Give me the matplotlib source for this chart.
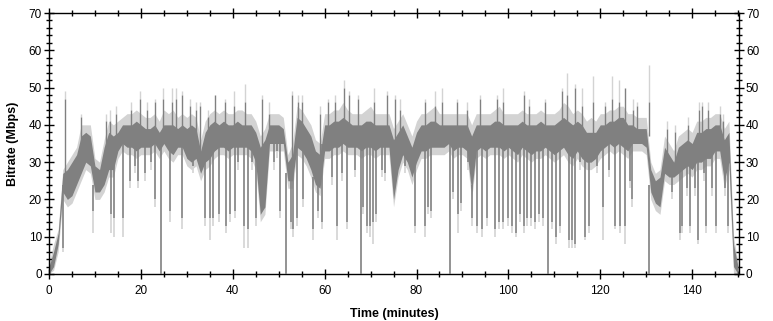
"""
Bitrate over time for a video stream, with the per-minute spread of the
bitrate (dark) and the short-term peaks/troughs (light). Saves out.png.
"""

import matplotlib
matplotlib.use("Agg")
import matplotlib.pyplot as plt
from matplotlib.ticker import MultipleLocator

# one entry per minute, 0..150
minutes = list(range(151))

dark_lo = [0, 2, 8, 22, 20, 21, 24, 27, 30, 29,
           22, 22, 24, 28, 28, 33, 35, 34, 34, 33,
           34, 34, 34, 35, 33, 35, 33, 32, 34, 34,
           31, 30, 31, 27, 30, 31, 33, 34, 34, 33,
           34, 34, 34, 34, 33, 30, 16, 18, 35, 35,
           35, 35, 25, 25, 34, 33, 31, 28, 24, 23,
           33, 33, 34, 34, 35, 34, 34, 34, 33, 34,
           34, 33, 34, 34, 34, 20, 28, 32, 30, 26,
           30, 33, 33, 34, 34, 34, 34, 35, 33, 34,
           34, 33, 22, 33, 34, 33, 34, 34, 34, 33,
           34, 33, 32, 34, 33, 32, 33, 33, 34, 33,
           32, 33, 34, 32, 31, 33, 31, 30, 30, 31,
           33, 34, 35, 34, 35, 34, 33, 35, 35, 35,
           34, 22, 19, 18, 27, 26, 26, 27, 28, 29,
           28, 30, 30, 31, 31, 33, 33, 25, 30, 2, 0]

dark_hi = [2, 6, 11, 27, 28, 30, 32, 37, 38, 37,
           29, 28, 34, 38, 37, 38, 40, 40, 40, 41,
           40, 39, 39, 40, 38, 40, 40, 40, 39, 40,
           39, 40, 39, 33, 38, 40, 41, 40, 41, 40,
           40, 41, 40, 40, 40, 38, 34, 36, 40, 40,
           40, 39, 30, 32, 42, 41, 39, 37, 33, 32,
           40, 40, 41, 41, 42, 41, 40, 40, 40, 41,
           41, 40, 40, 40, 40, 36, 38, 40, 37, 34,
           38, 40, 40, 41, 41, 40, 40, 40, 40, 40,
           40, 40, 37, 40, 40, 40, 40, 41, 41, 40,
           40, 40, 40, 41, 40, 40, 40, 41, 40, 40,
           40, 41, 42, 41, 40, 41, 40, 38, 38, 38,
           40, 40, 41, 41, 42, 42, 40, 40, 39, 39,
           39, 28, 25, 26, 34, 32, 30, 34, 35, 36,
           35, 38, 38, 39, 39, 40, 40, 36, 38, 8, 2]

light_lo = [0, 1, 6, 20, 18, 19, 22, 25, 28, 27,
            20, 20, 22, 26, 26, 31, 33, 32, 32, 31,
            32, 32, 32, 33, 31, 33, 31, 30, 32, 32,
            29, 28, 29, 25, 28, 29, 31, 32, 32, 31,
            32, 32, 32, 32, 31, 28, 14, 16, 33, 33,
            33, 33, 23, 23, 32, 31, 29, 26, 22, 21,
            31, 31, 32, 32, 33, 32, 32, 32, 31, 32,
            32, 31, 32, 32, 32, 18, 26, 30, 28, 24,
            28, 31, 31, 32, 32, 32, 32, 33, 31, 32,
            32, 31, 20, 31, 32, 31, 32, 32, 32, 31,
            32, 31, 30, 32, 31, 30, 31, 31, 32, 31,
            30, 31, 32, 30, 29, 31, 29, 28, 28, 29,
            31, 32, 33, 32, 33, 32, 31, 33, 33, 33,
            32, 20, 17, 16, 25, 24, 24, 25, 26, 27,
            26, 28, 28, 29, 29, 31, 31, 23, 28, 0, 0]

light_hi = [3, 8, 12, 28, 30, 32, 34, 40, 40, 40,
            31, 30, 36, 41, 40, 41, 42, 43, 43, 44,
            43, 42, 42, 43, 41, 44, 43, 44, 42, 43,
            42, 43, 42, 36, 41, 43, 44, 43, 44, 43,
            43, 44, 44, 43, 43, 41, 37, 39, 43, 43,
            43, 42, 32, 35, 45, 44, 42, 40, 36, 35,
            43, 43, 44, 44, 46, 44, 43, 43, 43, 44,
            45, 43, 43, 43, 43, 39, 41, 43, 40, 37,
            41, 43, 43, 44, 45, 43, 43, 43, 43, 43,
            43, 43, 40, 43, 43, 43, 43, 44, 45, 43,
            43, 43, 43, 44, 43, 43, 43, 44, 43, 43,
            43, 44, 46, 45, 43, 44, 43, 41, 42, 41,
            43, 43, 44, 44, 45, 45, 43, 43, 42, 42,
            42, 30, 27, 28, 37, 35, 33, 37, 38, 39,
            38, 41, 41, 42, 42, 43, 43, 39, 41, 10, 3]

# narrow drops: time (min), dark depth, light depth (Mbps)
dip_times = [3.0, 9.6, 13.4, 14.1, 16.2, 19.4, 23.1, 24.3, 26.3, 28.9,
             33.9, 35.0, 35.8, 36.9, 38.5, 39.5, 40.5, 42.4, 43.4, 45.0,
             49.0, 50.3, 51.5, 52.7, 53.2, 54.0, 55.2, 57.5, 58.6, 59.5,
             61.7, 62.8, 64.8, 67.9, 68.3, 69.2, 69.9, 70.6, 71.1, 72.4,
             79.7, 81.9, 82.6, 83.2, 87.3, 88.0, 89.0, 89.7, 92.0, 93.1,
             94.3, 95.3, 97.0, 98.0, 98.9, 100.0, 100.7, 101.6, 102.5, 103.5,
             104.0, 105.0, 105.8, 106.7, 107.5, 108.7, 109.6, 110.3, 111.3, 113.1,
             113.8, 114.5, 116.7, 117.6, 120.7, 123.2, 124.3, 125.4, 126.4, 126.9,
             130.7, 137.4, 137.9, 139.6, 141.2, 143.1, 145.2, 147.8,
             17.6, 18.7, 20.9, 22.3, 31.4, 41.2, 44.1, 49.6, 63.7, 66.6,
             73.1, 77.5, 91.3, 115.6, 119.2, 121.8, 135.6, 138.8, 140.7, 142.5,
             144.3, 147.2]
dip_dark = [7, 17, 16, 15, 15, 25, 20, 0, 17, 15,
            15, 15, 15, 16, 13, 16, 17, 13, 12, 15,
            30, 17, 0, 14, 12, 15, 20, 12, 17, 14,
            26, 13, 14, 0, 18, 13, 13, 14, 16, 28,
            13, 13, 18, 17, 0, 22, 16, 19, 15, 13,
            12, 15, 12, 14, 14, 15, 13, 11, 16, 13,
            15, 15, 14, 16, 15, 0, 14, 10, 13, 9,
            9, 8, 10, 13, 18, 13, 13, 13, 25, 20,
            0, 11, 13, 13, 9, 13, 13, 13,
            25, 29, 27, 30, 29, 30, 30, 33, 27, 28,
            27, 29, 30, 30, 29, 28, 22, 23, 23, 27,
            23, 23]
dip_light = [6, 11, 11, 10, 10, 23, 18, 0, 14, 12,
             13, 9, 13, 14, 11, 14, 15, 7, 7, 13,
             28, 15, 0, 12, 10, 13, 18, 9, 15, 12,
             24, 9, 12, 0, 16, 11, 10, 8, 14, 26,
             11, 10, 16, 15, 0, 20, 11, 17, 13, 11,
             10, 13, 10, 12, 12, 13, 11, 10, 14, 11,
             13, 13, 12, 14, 13, 0, 12, 8, 11, 7,
             7, 7, 9, 11, 9, 12, 11, 8, 23, 18,
             0, 9, 11, 11, 8, 11, 11, 11,
             23, 27, 25, 28, 27, 28, 28, 31, 25, 26,
             25, 27, 28, 28, 27, 26, 20, 21, 21, 25,
             21, 21]

# narrow peaks: time (min), dark height, light height (Mbps)
peak_times = [3.4, 7.0, 13.2, 19.8, 24.9, 26.7, 27.7, 32.0, 36.1, 40.2, 42.6,
              47.8, 55.0, 64.3, 65.3, 70.8, 76.5, 84.0, 85.5, 91.0, 98.9,
              104.5, 112.7, 116.0, 118.5, 122.5, 124.0, 125.4, 127.2, 130.5,
              141.5, 143.5, 146.0,
              12.4, 14.5, 17.8, 21.3, 23.0, 29.0, 30.7, 32.9, 34.7, 38.3,
              46.3, 52.8, 54.3, 59.0, 60.8, 62.3, 67.3, 73.5, 75.3, 81.9,
              88.8, 93.8, 97.5, 103.3, 108.0, 111.6, 114.5, 121.1, 128.0, 134.5,
              136.3, 139.2, 142.1, 146.8]
peak_dark = [47, 42, 41, 47, 47, 46, 47, 44, 48, 45, 46,
             43, 46, 50, 48, 46, 44, 45, 46, 44, 46,
             45, 48, 45, 46, 47, 46, 50, 44, 46,
             44, 44, 43,
             41, 43, 44, 44, 46, 48, 45, 45, 42, 46,
             47, 48, 46, 43, 46, 46, 47, 48, 47, 46,
             46, 47, 47, 48, 46, 49, 50, 45, 45, 39,
             38, 40, 45, 41]
peak_light = [49, 43, 44, 49, 50, 50, 50, 46, 48, 49, 51,
              46, 48, 52, 49, 50, 47, 49, 50, 46, 50,
              47, 54, 50, 53, 53, 52, 50, 47, 56,
              46, 46, 45,
              43, 45, 46, 46, 47, 49, 47, 46, 44, 47,
              48, 49, 48, 45, 47, 48, 48, 49, 48, 47,
              47, 48, 48, 49, 47, 50, 51, 46, 46, 41,
              40, 42, 46, 43]

DARK = "#808080"
LIGHT = "#d3d3d3"


def draw_series(ax):
    """Draw the light envelope, the dark body, then the narrow drops and peaks."""
    ax.fill_between(minutes, light_lo, light_hi,
                    color=LIGHT, linewidth=0, zorder=1)
    ax.fill_between(minutes, dark_lo, dark_hi,
                    color=DARK, linewidth=0, zorder=2)

    # drops: light tip under a dark stroke reaching back into the band
    for t, d, l in zip(dip_times, dip_dark, dip_light):
        band_lo = dark_lo[int(round(t))]
        ax.vlines(t, l, d, color=LIGHT, linewidth=1.2, zorder=1.5)
        ax.vlines(t, d, band_lo + 2, color=DARK, linewidth=1.2, zorder=3)

    # peaks: dark stroke out of the band with a light tip on top
    for t, d, l in zip(peak_times, peak_dark, peak_light):
        band_hi = dark_hi[int(round(t))]
        ax.vlines(t, d, l, color=LIGHT, linewidth=1.0, zorder=1.5)
        ax.vlines(t, band_hi - 2, d, color=DARK, linewidth=1.0, zorder=3)


def style_axes(ax):
    """Axis limits, ticks on every side and labels."""
    ax.set_xlim(0, 150.2)
    ax.set_ylim(0, 70)
    ax.xaxis.set_major_locator(MultipleLocator(20))
    ax.xaxis.set_minor_locator(MultipleLocator(5))
    ax.yaxis.set_major_locator(MultipleLocator(10))
    ax.yaxis.set_minor_locator(MultipleLocator(2))
    ax.tick_params(which="both", direction="inout", top=True, right=True,
                   labelright=True, labelsize=8.5, width=1, colors="black")
    ax.tick_params(which="major", length=7)
    ax.tick_params(which="minor", length=4)
    ax.tick_params(axis="y", pad=1.5)
    ax.tick_params(axis="x", pad=4.5)
    for spine in ax.spines.values():
        spine.set_linewidth(1)
    ax.set_xlabel("Time (minutes)", fontsize=9, fontweight="bold", labelpad=8)
    ax.set_ylabel("Bitrate (Mbps)", fontsize=9, fontweight="bold", labelpad=7)


def main():
    plt.rcParams["font.family"] = ["Liberation Sans", "DejaVu Sans"]
    fig = plt.figure(figsize=(7.73, 3.21), dpi=100)
    ax = fig.add_axes([49 / 773, 47 / 321, 690 / 773, 261 / 321])
    draw_series(ax)
    style_axes(ax)
    fig.savefig("out.png", dpi=100)
    plt.close(fig)


if __name__ == "__main__":
    main()
